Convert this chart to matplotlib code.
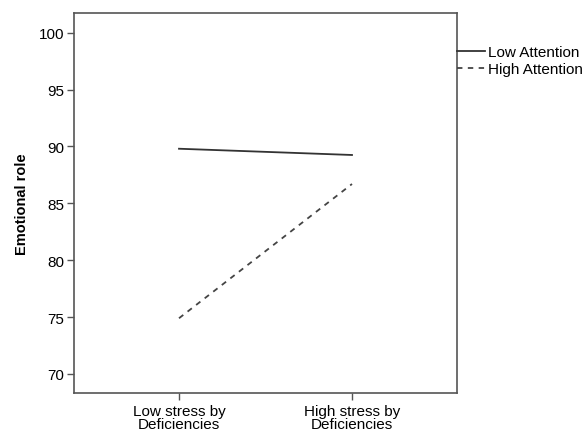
import matplotlib.pyplot as plt

plt.rcParams['font.family'] = ['Liberation Sans', 'DejaVu Sans']

categories = ['Low stress by\nDeficiencies', 'High stress by\nDeficiencies']
low_attention = [89.8, 89.25]
high_attention = [74.9, 86.7]
series_names = ['Low Attention', 'High Attention']
y_ticks = [70, 75, 80, 85, 90, 95, 100]

fig = plt.figure(figsize=(5.83, 4.35), dpi=100)
ax = fig.add_axes([74/583, 1 - 394/435, (457-74)/583, (394-14)/435])

x = range(len(categories))
ax.plot(x, low_attention, color='#333333', lw=1.3, ls='-', label=series_names[0])
ax.plot(x, high_attention, color='#444444', lw=1.3, ls=(0, (3, 3)), label=series_names[1])

ax.set_xlim(-0.607, 1.607)
ax.set_ylim(68.33, 101.73)
ax.set_xticks(list(x))
ax.set_xticklabels(categories, fontsize=11, linespacing=0.92)
ax.set_yticks(y_ticks)
ax.set_yticklabels([str(t) for t in y_ticks], fontsize=11)
ax.tick_params(direction='out', length=5, width=1, color='#555555', pad=2)
ax.tick_params(axis='x', pad=3)
for s in ax.spines.values():
    s.set_color('#555555')
    s.set_linewidth(1.2)
ax.set_ylabel('Emotional role', fontsize=10.5, fontweight='bold', labelpad=7)

leg = ax.legend(loc='upper left', bbox_to_anchor=(1.0, 0.915), frameon=False,
                fontsize=11, handlelength=1.8, handletextpad=0.2, borderpad=0,
                borderaxespad=0, labelspacing=0.2)

fig.savefig('out.png', dpi=100)
